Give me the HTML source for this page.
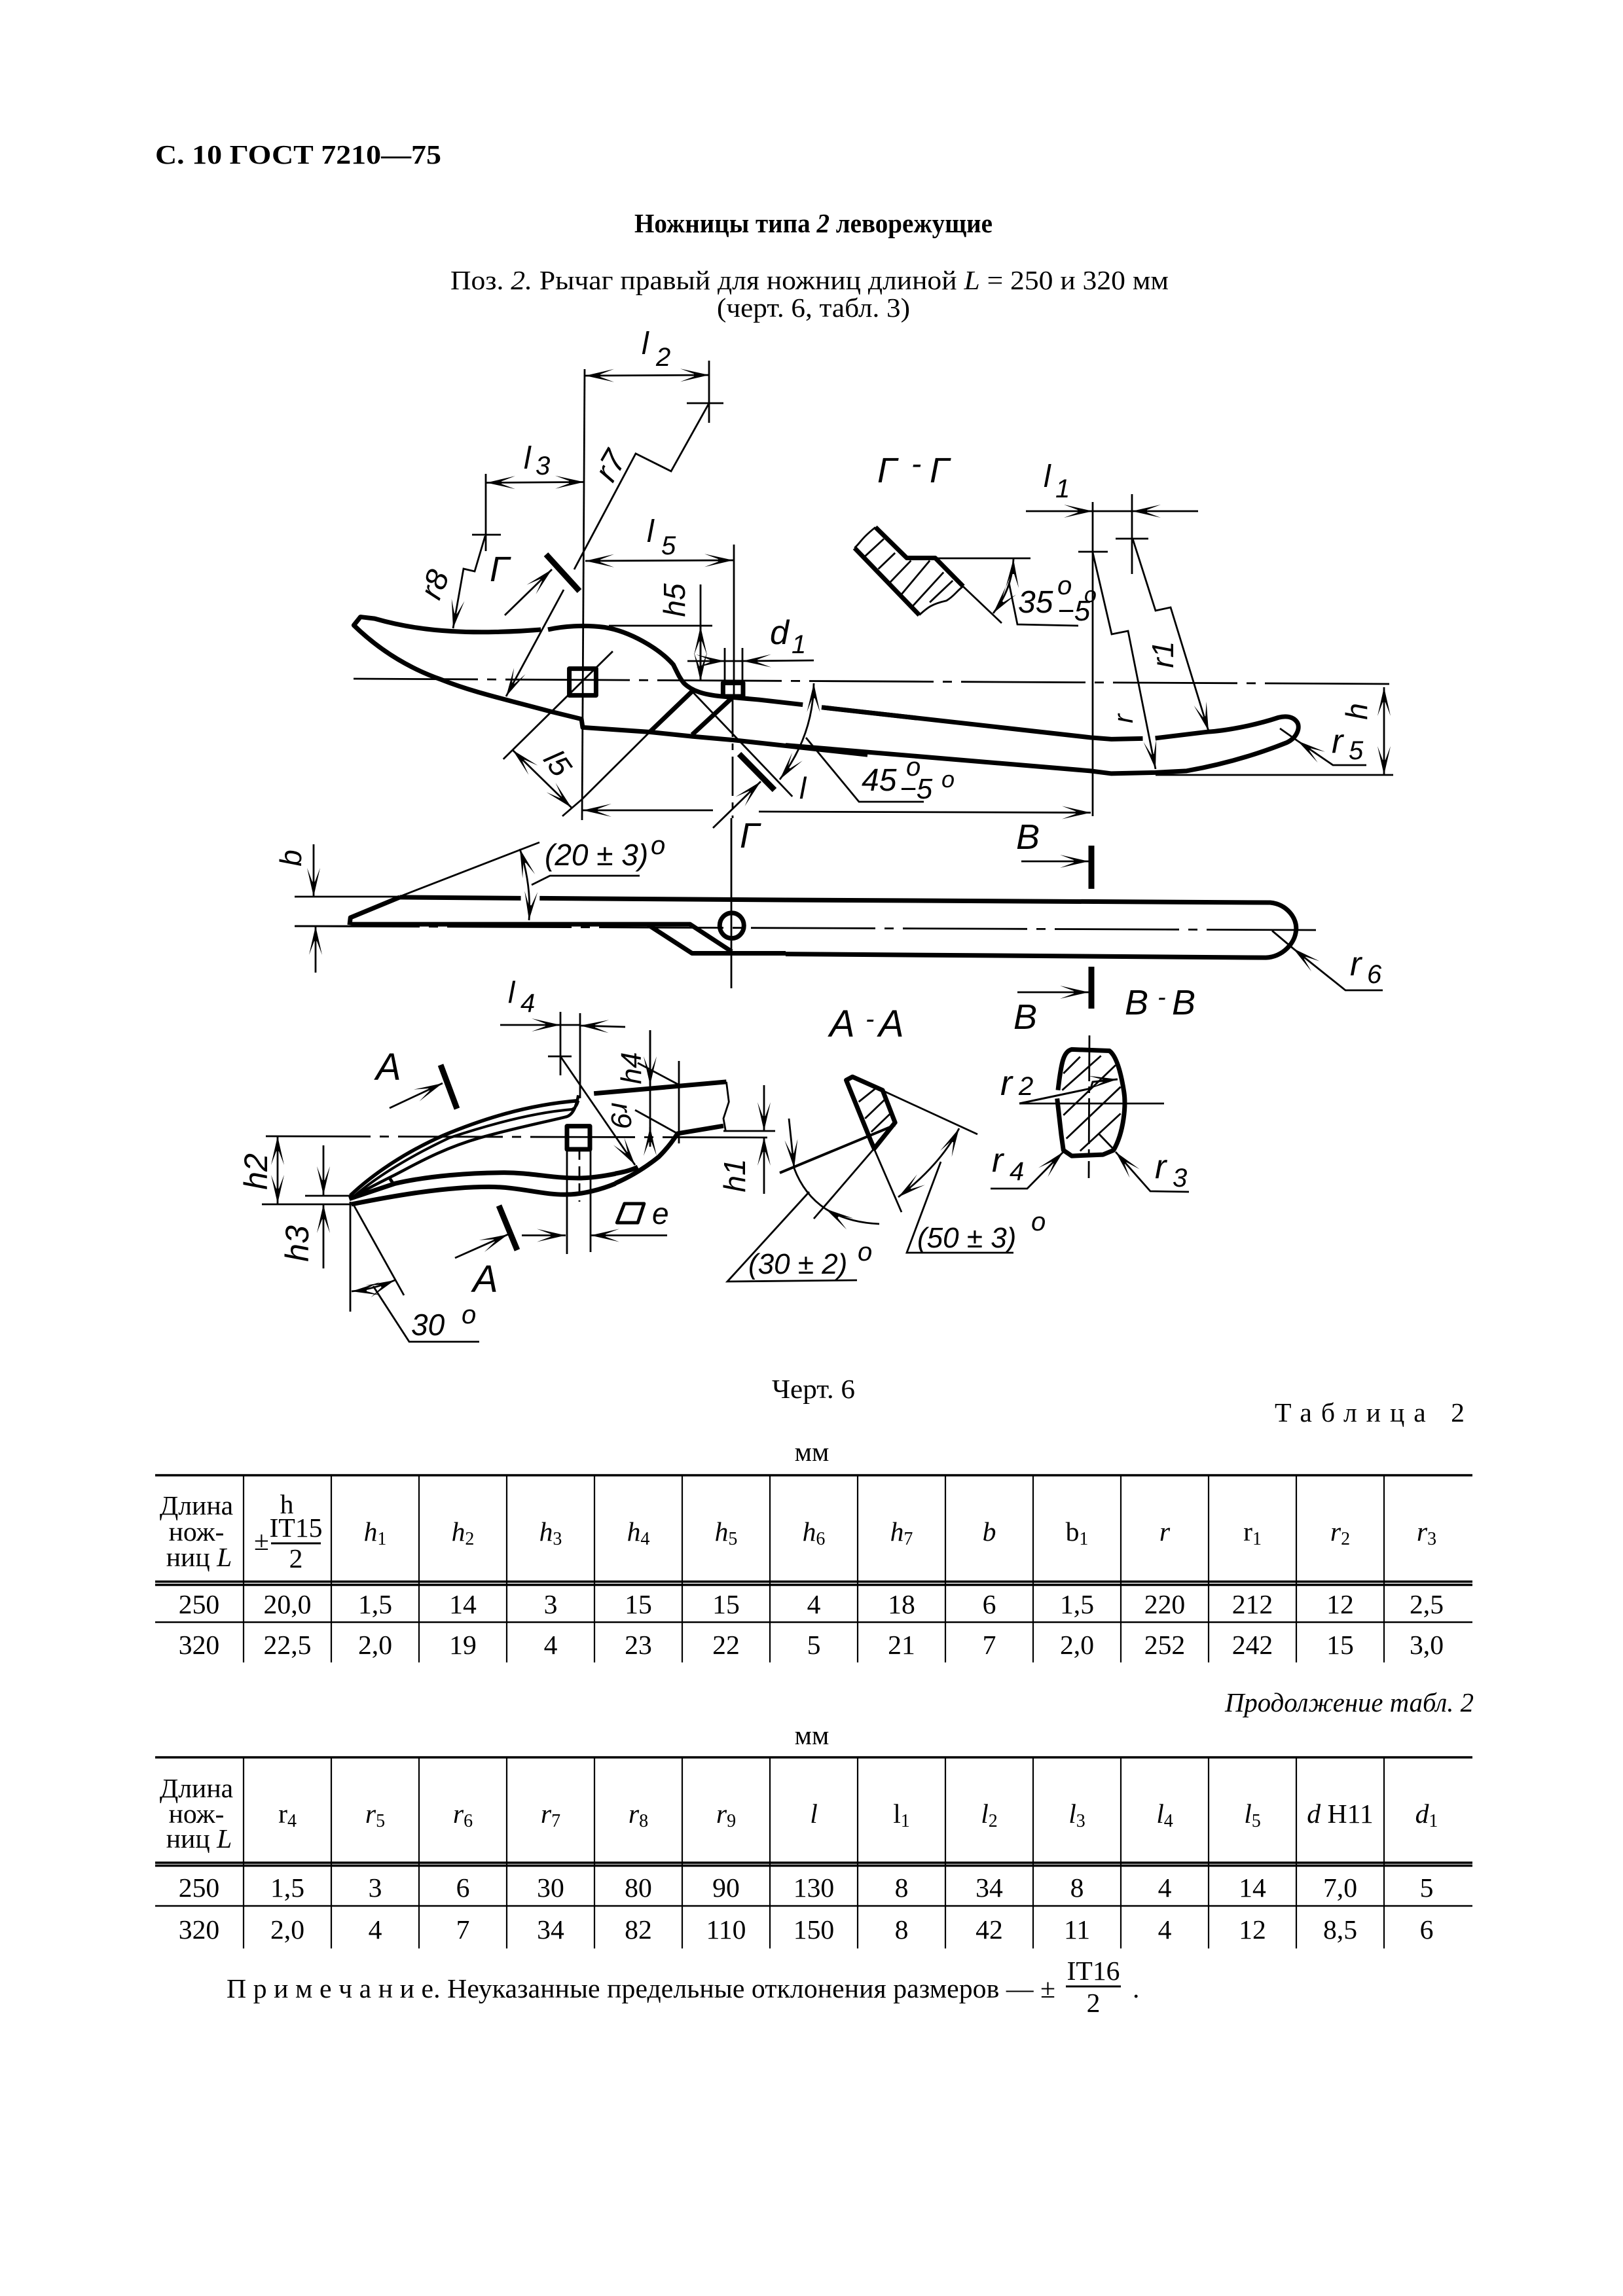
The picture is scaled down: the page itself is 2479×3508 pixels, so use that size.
<!DOCTYPE html>
<html><head><meta charset="utf-8"><style>
html,body{margin:0;padding:0;background:#fff}
svg{display:block}
.s{font-family:"Liberation Serif","Noto Serif CJK SC",serif;font-size:41.67px;fill:#000}
.c{text-anchor:middle}
.d text,text.f{font-family:"Liberation Sans",sans-serif;font-style:italic;fill:#000}
.t{fill:none;stroke:#000;stroke-width:2.8;stroke-linejoin:miter}
.k{fill:none;stroke:#000;stroke-width:7;stroke-linejoin:round;vector-effect:non-scaling-stroke}
.h{fill:none;stroke:#000;stroke-width:2.8;vector-effect:non-scaling-stroke}
.m{fill:none;stroke:#000;stroke-width:9}
.cl{fill:none;stroke:#000;stroke-width:2.8;stroke-dasharray:190 14 14 14}
</style></head><body>
<svg xmlns="http://www.w3.org/2000/svg" width="2479" height="3508" viewBox="0 0 2479 3508">
<defs>
<marker id="a" markerUnits="userSpaceOnUse" markerWidth="60" markerHeight="30" refX="50" refY="15" orient="auto-start-reverse"><path d="M50 15L6 5L27 13V17L6 25Z" fill="#000"/></marker>
</defs>
<rect width="2479" height="3508" fill="#fff"/>

<!-- page text -->
<text class="s" x="237" y="250" font-weight="bold" textLength="437" lengthAdjust="spacingAndGlyphs">С. 10 ГОСТ 7210—75</text>
<text class="s" x="969" y="355" font-weight="bold" textLength="547" lengthAdjust="spacingAndGlyphs">Ножницы типа <tspan font-style="italic">2</tspan> леворежущие</text>
<text class="s" x="688" y="442" textLength="1097" lengthAdjust="spacingAndGlyphs">Поз. <tspan font-style="italic">2.</tspan> Рычаг правый для ножниц длиной <tspan font-style="italic">L</tspan> = 250 и 320 мм</text>
<text class="s" x="1095" y="484" textLength="295" lengthAdjust="spacingAndGlyphs">(черт. 6, табл. 3)</text>
<text class="s" x="1179" y="2136" textLength="127" lengthAdjust="spacingAndGlyphs">Черт. 6</text>
<text class="s" x="1947" y="2172" textLength="290">Таблица 2</text>
<text class="s c" x="1240" y="2232">мм</text>
<text class="s" x="1871" y="2615" font-style="italic" textLength="380" lengthAdjust="spacingAndGlyphs">Продолжение табл. 2</text>
<text class="s c" x="1240" y="2665">мм</text>
<text class="s" x="346" y="3052" textLength="1266">П р и м е ч а н и е. Неуказанные предельные отклонения размеров — ±</text>
<text class="s c" x="1670" y="3025">IT16</text>
<path d="M1628 3035H1712" stroke="#000" stroke-width="3" fill="none"/>
<text class="s c" x="1670" y="3074">2</text>
<text class="s" x="1730" y="3052">.</text>

<!-- table 1 -->
<path d="M237 2254H2249M237 2416.5H2249M237 2421.5H2249" stroke="#000" stroke-width="3.5" fill="none"/>
<path d="M237 2478.5H2249" stroke="#000" stroke-width="2.6" fill="none"/>
<path d="M372 2254V2540M506 2254V2540M640 2254V2540M774 2254V2540M908 2254V2540M1042 2254V2540M1176 2254V2540M1310 2254V2540M1444 2254V2540M1578 2254V2540M1712 2254V2540M1846 2254V2540M1980 2254V2540M2114 2254V2540" stroke="#000" stroke-width="2.2" fill="none"/>
<g>
<text class="s c" x="300" y="2314">Длина</text><text class="s c" x="300" y="2354">нож-</text><text class="s c" x="304" y="2393">ниц <tspan font-style="italic">L</tspan></text>
<text class="s c" x="438" y="2312">h</text><text class="s" x="388" y="2368">±</text><path d="M414 2358H490" stroke="#000" stroke-width="3" fill="none"/><text class="s c" x="452" y="2348">IT15</text><text class="s c" x="452" y="2395">2</text>
<text class="s c" x="573" y="2354"><tspan font-style="italic">h</tspan><tspan font-size="28" dy="6">1</tspan></text>
<text class="s c" x="707" y="2354"><tspan font-style="italic">h</tspan><tspan font-size="28" dy="6">2</tspan></text>
<text class="s c" x="841" y="2354"><tspan font-style="italic">h</tspan><tspan font-size="28" dy="6">3</tspan></text>
<text class="s c" x="975" y="2354"><tspan font-style="italic">h</tspan><tspan font-size="28" dy="6">4</tspan></text>
<text class="s c" x="1109" y="2354"><tspan font-style="italic">h</tspan><tspan font-size="28" dy="6">5</tspan></text>
<text class="s c" x="1243" y="2354"><tspan font-style="italic">h</tspan><tspan font-size="28" dy="6">6</tspan></text>
<text class="s c" x="1377" y="2354"><tspan font-style="italic">h</tspan><tspan font-size="28" dy="6">7</tspan></text>
<text class="s c" x="1511" y="2354" font-style="italic">b</text>
<text class="s c" x="1645" y="2354">b<tspan font-size="28" dy="6">1</tspan></text>
<text class="s c" x="1779" y="2354" font-style="italic">r</text>
<text class="s c" x="1913" y="2354">r<tspan font-size="28" dy="6">1</tspan></text>
<text class="s c" x="2047" y="2354"><tspan font-style="italic">r</tspan><tspan font-size="28" dy="6">2</tspan></text>
<text class="s c" x="2179" y="2354"><tspan font-style="italic">r</tspan><tspan font-size="28" dy="6">3</tspan></text>
<text class="s c" x="304" y="2465">250</text><text class="s c" x="439" y="2465">20,0</text><text class="s c" x="573" y="2465">1,5</text><text class="s c" x="707" y="2465">14</text><text class="s c" x="841" y="2465">3</text><text class="s c" x="975" y="2465">15</text><text class="s c" x="1109" y="2465">15</text><text class="s c" x="1243" y="2465">4</text><text class="s c" x="1377" y="2465">18</text><text class="s c" x="1511" y="2465">6</text><text class="s c" x="1645" y="2465">1,5</text><text class="s c" x="1779" y="2465">220</text><text class="s c" x="1913" y="2465">212</text><text class="s c" x="2047" y="2465">12</text><text class="s c" x="2179" y="2465">2,5</text>
<text class="s c" x="304" y="2527">320</text><text class="s c" x="439" y="2527">22,5</text><text class="s c" x="573" y="2527">2,0</text><text class="s c" x="707" y="2527">19</text><text class="s c" x="841" y="2527">4</text><text class="s c" x="975" y="2527">23</text><text class="s c" x="1109" y="2527">22</text><text class="s c" x="1243" y="2527">5</text><text class="s c" x="1377" y="2527">21</text><text class="s c" x="1511" y="2527">7</text><text class="s c" x="1645" y="2527">2,0</text><text class="s c" x="1779" y="2527">252</text><text class="s c" x="1913" y="2527">242</text><text class="s c" x="2047" y="2527">15</text><text class="s c" x="2179" y="2527">3,0</text>
</g>

<!-- table 2 -->
<path d="M237 2685H2249M237 2846H2249M237 2850.5H2249" stroke="#000" stroke-width="3.5" fill="none"/>
<path d="M237 2912H2249" stroke="#000" stroke-width="2.6" fill="none"/>
<path d="M372 2685V2977M506 2685V2977M640 2685V2977M774 2685V2977M908 2685V2977M1042 2685V2977M1176 2685V2977M1310 2685V2977M1444 2685V2977M1578 2685V2977M1712 2685V2977M1846 2685V2977M1980 2685V2977M2114 2685V2977" stroke="#000" stroke-width="2.2" fill="none"/>
<g>
<text class="s c" x="300" y="2746">Длина</text><text class="s c" x="300" y="2785">нож-</text><text class="s c" x="304" y="2823">ниц <tspan font-style="italic">L</tspan></text>
<text class="s c" x="439" y="2785">r<tspan font-size="28" dy="6">4</tspan></text>
<text class="s c" x="573" y="2785"><tspan font-style="italic">r</tspan><tspan font-size="28" dy="6">5</tspan></text>
<text class="s c" x="707" y="2785"><tspan font-style="italic">r</tspan><tspan font-size="28" dy="6">6</tspan></text>
<text class="s c" x="841" y="2785"><tspan font-style="italic">r</tspan><tspan font-size="28" dy="6">7</tspan></text>
<text class="s c" x="975" y="2785"><tspan font-style="italic">r</tspan><tspan font-size="28" dy="6">8</tspan></text>
<text class="s c" x="1109" y="2785"><tspan font-style="italic">r</tspan><tspan font-size="28" dy="6">9</tspan></text>
<text class="s c" x="1243" y="2785" font-style="italic">l</text>
<text class="s c" x="1377" y="2785">l<tspan font-size="28" dy="6">1</tspan></text>
<text class="s c" x="1511" y="2785"><tspan font-style="italic">l</tspan><tspan font-size="28" dy="6">2</tspan></text>
<text class="s c" x="1645" y="2785"><tspan font-style="italic">l</tspan><tspan font-size="28" dy="6">3</tspan></text>
<text class="s c" x="1779" y="2785"><tspan font-style="italic">l</tspan><tspan font-size="28" dy="6">4</tspan></text>
<text class="s c" x="1913" y="2785"><tspan font-style="italic">l</tspan><tspan font-size="28" dy="6">5</tspan></text>
<text class="s c" x="2047" y="2785"><tspan font-style="italic">d</tspan> H11</text>
<text class="s c" x="2179" y="2785"><tspan font-style="italic">d</tspan><tspan font-size="28" dy="6">1</tspan></text>
<text class="s c" x="304" y="2898">250</text><text class="s c" x="439" y="2898">1,5</text><text class="s c" x="573" y="2898">3</text><text class="s c" x="707" y="2898">6</text><text class="s c" x="841" y="2898">30</text><text class="s c" x="975" y="2898">80</text><text class="s c" x="1109" y="2898">90</text><text class="s c" x="1243" y="2898">130</text><text class="s c" x="1377" y="2898">8</text><text class="s c" x="1511" y="2898">34</text><text class="s c" x="1645" y="2898">8</text><text class="s c" x="1779" y="2898">4</text><text class="s c" x="1913" y="2898">14</text><text class="s c" x="2047" y="2898">7,0</text><text class="s c" x="2179" y="2898">5</text>
<text class="s c" x="304" y="2962">320</text><text class="s c" x="439" y="2962">2,0</text><text class="s c" x="573" y="2962">4</text><text class="s c" x="707" y="2962">7</text><text class="s c" x="841" y="2962">34</text><text class="s c" x="975" y="2962">82</text><text class="s c" x="1109" y="2962">110</text><text class="s c" x="1243" y="2962">150</text><text class="s c" x="1377" y="2962">8</text><text class="s c" x="1511" y="2962">42</text><text class="s c" x="1645" y="2962">11</text><text class="s c" x="1779" y="2962">4</text><text class="s c" x="1913" y="2962">12</text><text class="s c" x="2047" y="2962">8,5</text><text class="s c" x="2179" y="2962">6</text>
</g>

<!-- Thick outlines: zoom-coordinate groups -->
<g transform="translate(400,480) scale(.638,.51)">
<path class="k" d="M668 945C600 952 520 955 455 950C380 945 320 930 270 912L236 907L220 932C280 1005 350 1060 430 1095C500 1130 570 1150 690 1190L765 1213L768 1238L930 1252L1030 1265L1130 1276L1290 1298L1450 1320"/>
<path class="k" d="M685 945C720 935 770 930 820 938C880 950 950 1000 985 1050C995 1075 1000 1090 1010 1105C1030 1130 1060 1140 1100 1145L1190 1155L1295 1170"/>
<path class="k" d="M1340 1178L1568 1210"/>
<path class="k" d="M736 1062H800V1142H736Z"/>
<path class="k" d="M1104 1105H1152V1145H1104Z"/>
<path class="k" d="M1030 1130L930 1250M1125 1150L1030 1260"/>
<path class="h" d="M930 1250L765 1455M1030 1130L1270 1445M840 1010L578 1333"/>
</g>
<g transform="translate(1200,650) scale(.638,.51)">
<path class="k" d="M0 958L730 1035L780 1043L885 1040L960 1035C1050 1015 1130 985 1200 950C1225 935 1232 905 1225 890C1215 870 1195 870 1180 875C1120 900 1050 915 1010 918L885 937"/>
<path class="k" d="M855 938L780 940L730 935L90 845"/>
<path class="k" d="M165 367L320 568M215 305L290 397H358L425 482"/>
<path class="h" d="M165 367C180 350 180 340 215 305M320 568C340 545 350 535 385 525C405 510 410 495 425 482"/>
<path class="h" d="M190 392L235 340M222 430L262 382M250 470L300 405M278 505L345 405M305 540L378 440M345 530L400 465"/>
</g>
<g transform="translate(400,1250) scale(.638,.51)">
<path class="k" d="M330 237L620 240M665 240L1254 245"/>
<path class="k" d="M210 320L212 298L330 237M215 318H1025L1125 400M925 320L1030 405H1254"/>
<ellipse class="k" cx="1125" cy="322" rx="29" ry="38"/>
<path class="k" d="M846 1094C890 1070 925 1040 950 1015C970 990 985 965 995 945L1105 922"/>
<path class="k" d="M846 1065C865 1060 885 1055 900 1045"/>
<path class="k" d="M795 825L1112 790"/>
<path class="h" d="M1112 790L1118 850L1105 900L1110 935"/>
<path class="k" d="M850 1212L868 1155H915L900 1212Z" style="stroke-width:5"/>
</g>
<g transform="translate(520,1650) scale(.33333)">
<path class="k" style="stroke-width:5.5" d="M45 530C150 430 300 330 470 255C650 180 850 115 1090 95"/>
<path class="k" style="stroke-width:4" d="M60 535C170 440 320 350 500 265C680 205 880 150 1060 135C1075 130 1085 115 1090 95"/>
<path class="k" style="stroke-width:4.5" d="M60 535C120 500 180 470 240 440C330 395 450 320 640 265C780 225 950 190 1030 170C1060 165 1080 130 1090 70"/>
<path class="k" d="M40 545L250 475C400 440 600 425 750 425C880 425 960 450 1090 450C1150 450 1210 440 1260 430"/>
<path class="k" style="stroke-width:5" d="M225 450L245 480"/>
<path class="k" d="M50 570C250 530 480 490 680 490C820 490 940 530 1040 525C1110 525 1200 500 1260 475"/>
<path class="k" d="M1038 212H1143V318H1038Z"/>
</g>
<g transform="translate(1200,1250) scale(.638,.51)">
<path class="k" d="M0 245L1160 253C1200 258 1225 300 1222 335C1220 375 1190 415 1150 418L0 407"/>
<path class="k" d="M145 785L205 970L212 990L262 912L232 815L160 775Z"/>
<path class="h" d="M175 850L215 810M190 900L240 840M205 940L255 880"/>
<path class="k" d="M650 840L660 950L665 995L685 1012L760 1008L785 995C810 940 815 860 810 820C805 780 795 715 775 697L685 693C665 700 660 730 652 815"/>
<path class="h" d="M665 765L705 715M662 815L755 712M665 890L790 740M672 960L802 805M705 997L802 885"/>
</g>

<!-- Dimension / thin lines (page coordinates) -->
<g class="dim">
<path class="cl" d="M540 1037L2125 1045"/>
<path class="cl" d="M451 1415L2010 1421"/>
<path class="cl" d="M406 1736L1180 1738" style="stroke-dasharray:160 14 14 14"/>
<path class="t" d="M893 564L889 1253"/>
<path class="t" d="M1083 551V646M1049 616H1105"/>
<path class="t" d="M894 574L1083 573" marker-start="url(#a)" marker-end="url(#a)"/>
<path class="t" d="M1083 616L1025 720L971 693L877 870"/>
<path class="t" d="M861 901L773 1064" marker-end="url(#a)"/>
<path class="t" d="M742 724V842M721 817H765"/>
<path class="t" d="M743 737.5L892 736.5" marker-start="url(#a)" marker-end="url(#a)"/>
<path class="t" d="M741 819L725 873L708 869L692 960" marker-end="url(#a)"/>
<path class="m" d="M834 847L885 903"/>
<path class="t" d="M771 940L843 870" marker-end="url(#a)"/>
<path class="t" d="M1121 832V1064"/>
<path class="t" d="M894 857L1120 856" marker-start="url(#a)" marker-end="url(#a)"/>
<path class="t" d="M930 956H1088M1070 893V1041" />
<path class="t" d="M1070 1041L1070 957" marker-start="url(#a)" marker-end="url(#a)"/>
<path class="t" d="M1107 990V1043M1134 990V1043M1107 1010H1134"/>
<path class="t" d="M1050 1010L1107 1010" marker-end="url(#a)"/>
<path class="t" d="M1243 1009L1134 1010" marker-end="url(#a)"/>
<path class="t" d="M1119 1066V1250" style="stroke-dasharray:60 10 10 10"/>
<path class="m" d="M1129 1152L1183 1207"/>
<path class="t" d="M1089 1265L1162 1194" marker-end="url(#a)"/>
<path class="t" d="M1243 1044Q1242 1125 1191 1191" marker-start="url(#a)" marker-end="url(#a)"/>
<path class="t" d="M783 1146L873 1234" marker-start="url(#a)" marker-end="url(#a)"/>
<path class="t" d="M859 1247L888 1222"/>
<path class="t" d="M1089 1238L890 1238" marker-end="url(#a)"/>
<path class="t" d="M1159 1240L1666 1241.6" marker-end="url(#a)"/>
<path class="t" d="M1231 1127L1312 1225H1411"/>
<path class="t" d="M1669 767V1247M1647 843H1692M1729 755V877M1704 823H1754"/>
<path class="t" d="M1669 781H1729"/>
<path class="t" d="M1567 781H1669" marker-end="url(#a)"/>
<path class="t" d="M1830 781H1729" marker-end="url(#a)"/>
<path class="t" d="M1669 844L1698 969L1723 964L1765 1175" marker-end="url(#a)"/>
<path class="t" d="M1730 823L1765 933L1788 928L1846 1117" marker-end="url(#a)"/>
<path class="t" d="M1765 1184H2128"/>
<path class="t" d="M2114 1050V1184" marker-start="url(#a)" marker-end="url(#a)"/>
<path class="t" d="M2087 1169H2036L1982 1132" marker-end="url(#a)"/>
<path class="t" d="M1955 1113L1982 1132"/>
<path class="t" d="M1429 853H1574M1471 896L1530 952"/>
<path class="t" d="M1548 854Q1546 900 1517 937" marker-start="url(#a)" marker-end="url(#a)"/>
<path class="t" d="M1541 890L1554 954L1647 956"/>
<path class="m" d="M1667 1292V1358"/>
<path class="t" d="M1560 1316H1663" marker-end="url(#a)"/>
<path class="m" d="M1667 1477V1541"/>
<path class="t" d="M1554 1516H1663" marker-end="url(#a)"/>
<path class="t" d="M450 1370H610M450 1415H540"/>
<path class="t" d="M479 1290L479 1370" marker-end="url(#a)"/>
<path class="t" d="M482 1486L482 1415" marker-end="url(#a)"/>
<path class="t" d="M610 1370L824 1287"/>
<path class="t" d="M794 1297Q812 1352 808 1406" marker-start="url(#a)" marker-end="url(#a)"/>
<path class="t" d="M812 1352L840 1338H977"/>
<path class="t" d="M1117 1250V1510"/>
<path class="t" d="M2112 1513H2055L1975 1449" marker-end="url(#a)"/>
<path class="t" d="M1943 1422L1975 1449"/>
<path class="t" d="M856 1546V1643M886 1548V1678M837 1614H873"/>
<path class="t" d="M866 1755V1916M902 1755V1913"/>
<path class="t" d="M885 1756V1836" style="stroke-dasharray:16 10"/>
<path class="t" d="M856 1614L970 1780" marker-end="url(#a)"/>
<path class="t" d="M856 1566H886"/>
<path class="t" d="M764 1566H856" marker-end="url(#a)"/>
<path class="t" d="M955 1569L886 1567" marker-end="url(#a)"/>
<path class="t" d="M993 1574V1752M974 1624L1038 1658M970 1696L1035 1732M1037 1621V1747"/>
<path class="t" d="M993 1574L993 1658" marker-end="url(#a)"/>
<path class="t" d="M993 1752L993 1722" marker-end="url(#a)"/>
<path class="t" d="M1105 1728H1184"/>
<path class="t" d="M1167 1658L1167 1728" marker-end="url(#a)"/>
<path class="t" d="M1167 1824L1167 1737" marker-end="url(#a)"/>
<path class="t" d="M424 1736L424 1839" marker-start="url(#a)" marker-end="url(#a)"/>
<path class="t" d="M400 1840H537M466 1827H537"/>
<path class="t" d="M494 1750L494 1826" marker-end="url(#a)"/>
<path class="t" d="M494 1938L494 1840" marker-end="url(#a)"/>
<path class="t" d="M535 1836V2004M539 1839L617 1979"/>
<path class="t" d="M537 1973Q570 1970 603 1956" marker-start="url(#a)" marker-end="url(#a)"/>
<path class="t" d="M570 1965L625 2050H732"/>
<path class="m" d="M673 1627L698 1694"/>
<path class="t" d="M595 1693L676 1655" marker-end="url(#a)"/>
<path class="m" d="M762 1842L790 1910"/>
<path class="t" d="M695 1922L776 1886" marker-end="url(#a)"/>
<path class="t" d="M797 1887.5L864 1887.5" marker-end="url(#a)"/>
<path class="t" d="M1019 1887.5L902 1887.5" marker-end="url(#a)"/>
<path class="t" d="M1302 1645L1493 1733"/>
<path class="t" style="stroke-width:4" d="M1367 1719L1191 1792"/>
<path class="t" d="M1335 1755L1243 1862M1335 1755L1377 1852"/>
<path class="t" d="M1372 1829Q1436 1780 1465 1724" marker-start="url(#a)" marker-end="url(#a)"/>
<path class="t" d="M1437 1775L1385 1914H1548"/>
<path class="t" d="M1205 1709L1213 1785" marker-end="url(#a)"/>
<path class="t" d="M1213 1785Q1228 1825 1261 1847"/>
<path class="t" d="M1343 1870Q1295 1868 1261 1847" marker-end="url(#a)"/>
<path class="t" d="M1236 1821L1111 1958L1309 1956"/>
<path class="t" d="M1664 1582L1663 1800" style="stroke-dasharray:70 8 10 8"/>
<path class="t" d="M1557 1686H1778"/>
<path class="t" d="M1557 1686L1666 1663L1669 1653L1707 1649" marker-end="url(#a)" style="stroke-width:3"/>
<path class="t" d="M1513 1816H1569L1624 1760" marker-end="url(#a)"/>
<path class="t" d="M1816 1821L1757 1820L1704 1760" marker-end="url(#a)"/>
<path class="t" d="M1679 1733L1702 1757"/>
</g>

<!-- Drawing labels -->
<g class="d" font-size="54">
<text x="980" y="541" font-size="48">l</text><text x="1002" y="559" font-size="40">2</text>
<text transform="translate(933,712) rotate(-60)" text-anchor="middle" dy="16" font-size="50">r7</text>
<text x="800" y="716" font-size="48">l</text><text x="818" y="725" font-size="40">3</text>
<text x="988" y="828" font-size="48">l</text><text x="1010" y="847" font-size="40">5</text>
<text transform="translate(1030,917) rotate(-90)" text-anchor="middle" dy="16" font-size="46">h5</text>
<text x="1176" y="984" font-size="52">d</text><text x="1209" y="998" font-size="40">1</text>
<text transform="translate(664,893) rotate(-68)" text-anchor="middle" dy="16" font-size="48">r8</text>
<text x="748" y="888" font-size="54">Г</text>
<text x="1130" y="1295" font-size="54">Г</text>
<text x="1221" y="1220" font-size="46">l</text>
<text transform="translate(852,1166) rotate(55)" text-anchor="middle" dy="16" font-size="46">l5</text>
<text x="1340" y="737" font-size="54">Г</text><text x="1392" y="724" font-size="46">-</text><text x="1420" y="737" font-size="54">Г</text>
<text x="1594" y="744" font-size="48">l</text><text x="1612" y="760" font-size="40">1</text>
<text x="1555" y="936" font-size="48">35</text><text x="1615" y="908" font-size="40">o</text><text x="1615" y="948" font-size="44">−5</text><text x="1656" y="920" font-size="34">o</text>
<text x="1316" y="1208" font-size="48">45</text><text x="1384" y="1185" font-size="40">o</text><text x="1374" y="1220" font-size="44">−5</text><text x="1438" y="1203" font-size="36">o</text>
<text transform="translate(1716,1098) rotate(-90)" text-anchor="middle" dy="14" font-size="42">r</text>
<text transform="translate(1776,1000) rotate(-90)" text-anchor="middle" dy="16" font-size="46">r1</text>
<text transform="translate(2074,1087) rotate(-90)" text-anchor="middle" dy="14" font-size="46">h</text>
<text x="2034" y="1150" font-size="52">r</text><text x="2060" y="1160" font-size="40">5</text>
<text x="1552" y="1297" font-size="54">B</text>
<text x="1548" y="1572" font-size="54">B</text>
<text x="1718" y="1550" font-size="54">B</text><text x="1768" y="1536" font-size="38">-</text><text x="1790" y="1550" font-size="54">B</text>
<text x="1267" y="1584" font-size="58">A</text><text x="1322" y="1570" font-size="40">-</text><text x="1342" y="1584" font-size="58">A</text>
<text transform="translate(446,1311) rotate(-90)" text-anchor="middle" dy="14" font-size="46">b</text>
<text x="832" y="1322" font-size="46">(20 ± 3)</text><text x="994" y="1305" font-size="40">o</text>
<text x="2062" y="1490" font-size="52">r</text><text x="2088" y="1502" font-size="40">6</text>
<text x="776" y="1532" font-size="46">l</text><text x="795" y="1546" font-size="40">4</text>
<text transform="translate(965,1632) rotate(-90)" text-anchor="middle" dy="14" font-size="44">h4</text>
<text transform="translate(950,1704) rotate(90)" text-anchor="middle" dy="16" font-size="44">r9</text>
<text transform="translate(1124,1796) rotate(-90)" text-anchor="middle" dy="14" font-size="46">h1</text>
<text transform="translate(392,1790) rotate(-90)" text-anchor="middle" dy="16" font-size="50">h2</text>
<text transform="translate(455,1900) rotate(-90)" text-anchor="middle" dy="16" font-size="50">h3</text>
<text x="628" y="2040" font-size="46">30</text><text x="705" y="2022" font-size="40">o</text>
<text x="574" y="1650" font-size="58">A</text>
<text x="722" y="1974" font-size="58">A</text>
<text x="996" y="1870" font-size="46">e</text>
<text x="1143" y="1946" font-size="44">(30 ± 2)</text><text x="1310" y="1926" font-size="40">o</text>
<text x="1401" y="1906" font-size="44">(50 ± 3)</text><text x="1575" y="1880" font-size="40">o</text>
<text x="1528" y="1673" font-size="54">r</text><text x="1556" y="1673" font-size="40">2</text>
<text x="1515" y="1790" font-size="52">r</text><text x="1542" y="1803" font-size="40">4</text>
<text x="1764" y="1800" font-size="52">r</text><text x="1791" y="1813" font-size="40">3</text>
</g>
</svg>
</body></html>
